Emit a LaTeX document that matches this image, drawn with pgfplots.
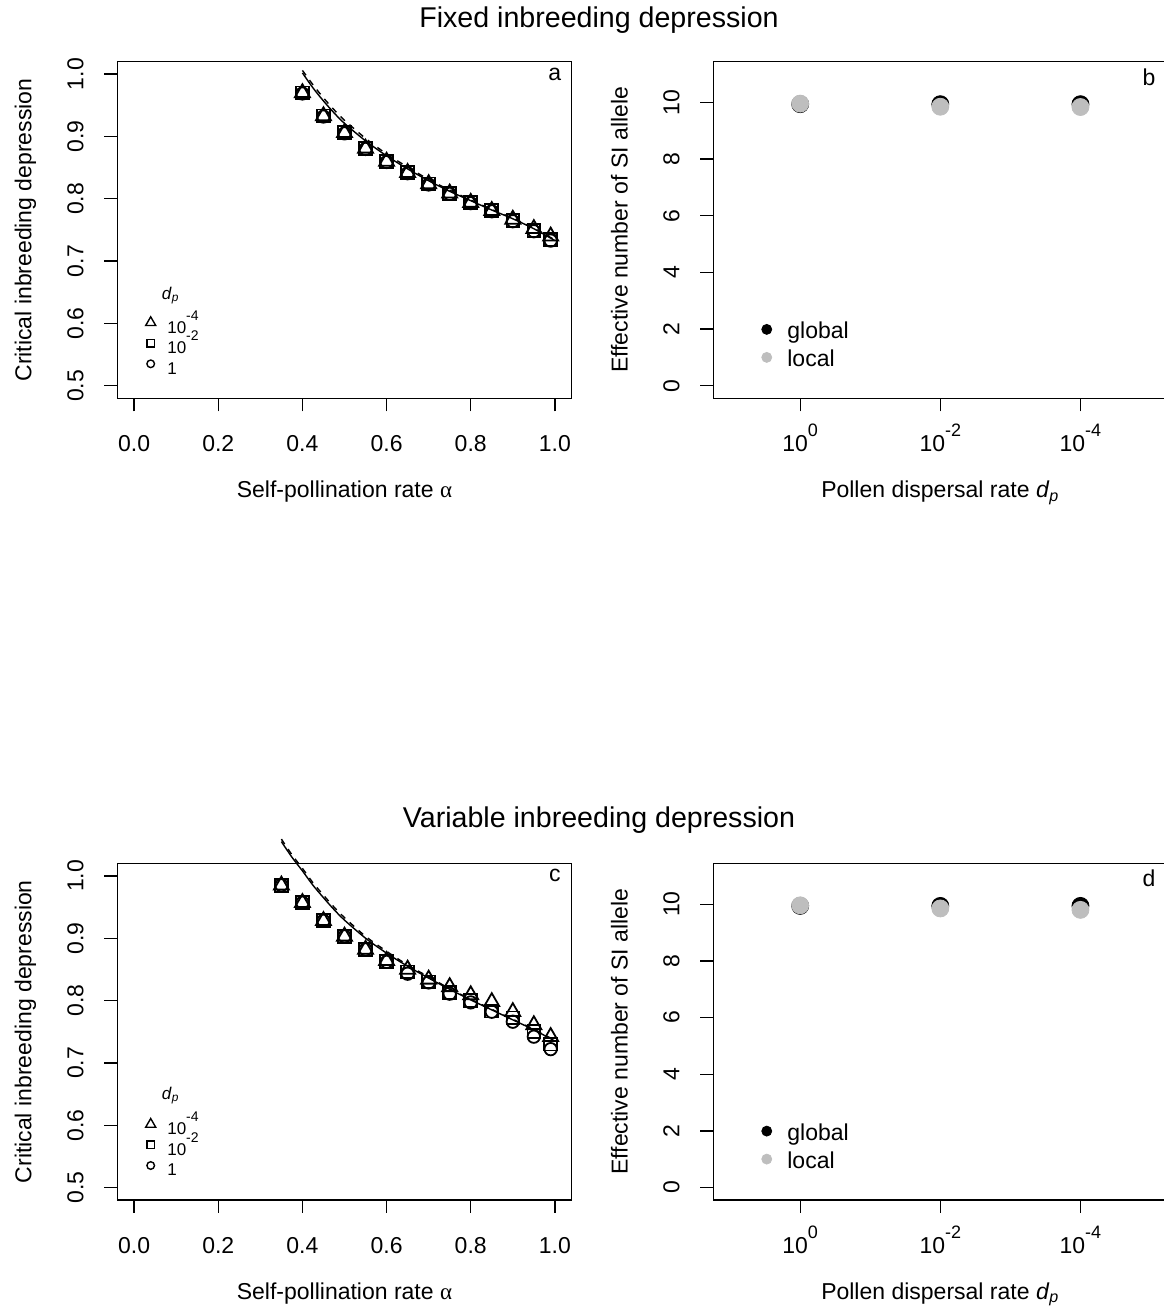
\documentclass[border=0pt]{standalone}
\usepackage{fontspec}
\setmainfont{Liberation Sans}
\newfontfamily\greekfont{Liberation Serif}
\usepackage{pgfplots}
\pgfplotsset{compat=1.18}
\definecolor{rgray}{HTML}{BEBEBE}
\newcommand\bigsup[1]{\raisebox{7.5pt}{\fontsize{9}{10}\selectfont #1}}
\newcommand\smallsup[1]{\raisebox{6.5pt}[0pt][0pt]{\fontsize{7}{8}\selectfont #1}}
\newcommand\dpsym{\textit{d}\textsubscript{\textit{p}}}

\pgfplotsset{
  rstyle/.style={
    scale only axis,
    clip=false,
    axis line style={line width=0.65pt},
    tick align=outside,
    major tick length=6.5pt,
    tick style={line width=0.65pt, black},
    xtick pos=bottom, ytick pos=left,
    tick label style={font=\fontsize{11.5}{13}\selectfont},
    label style={font=\fontsize{11.5}{13}\selectfont},
    /pgf/number format/assume math mode=true,
    xticklabel style={anchor=base, inner sep=0pt, yshift=-20.2pt},
    yticklabel style={xshift=-10.5pt, rotate=90, anchor=base, inner sep=0pt},
    xlabel style={at={(axis description cs:0.5,-0.295)}, anchor=base, inner sep=0pt},
    ylabel style={at={(axis description cs:-0.189,0.5)}, rotate=0, anchor=base, inner sep=0pt},
  },
  leftstyle/.style={
    rstyle,
    width=227.2pt, height=168.3pt,
    xmin=-0.04, xmax=1.04, ymin=0.48, ymax=1.02,
    xtick={0,0.2,0.4,0.6,0.8,1},
    xticklabels={0.0,0.2,0.4,0.6,0.8,1.0},
    ytick={0.5,0.6,0.7,0.8,0.9,1.0},
    yticklabels={0.5,0.6,0.7,0.8,0.9,1.0},
    xlabel={Self-pollination rate {\greekfont α}},
    ylabel={Critical inbreeding depression},
    legend image code/.code={\path[draw=none, fill=none] (-3pt,-3.3pt) rectangle (3pt,7pt); \draw[##1, overlay] plot coordinates {(0pt,5.2pt)};},
    legend style={draw=none, fill=none, at={(0.0603,0.2355)}, anchor=north west,
      inner sep=0pt, outer sep=0pt, row sep=0pt, column sep=5.3pt,
      font=\fontsize{8.5}{10}\selectfont,
      cells={anchor=base west},
      nodes={inner sep=0pt, outer sep=0pt, text height=7pt, text depth=3.3pt}},
  },
  rightstyle/.style={
    rstyle,
    width=227pt, height=168.3pt,
    xmin=0.38, xmax=3.62, ymin=-0.44, ymax=11.44,
    xtick={1,2,3},
    xticklabels={10\bigsup{0}, 10\bigsup{-2}, 10\bigsup{-4}},
    ytick={0,2,4,6,8,10},
    yticklabels={0,2,4,6,8,10},
    xlabel={Pollen dispersal rate \dpsym},
    ylabel={Effective number of SI allele},
    legend image code/.code={\path[draw=none, fill=none] (-3pt,-4.5pt) rectangle (3pt,9.5pt); \draw[##1, overlay] plot coordinates {(0pt,4.8pt)};},
    legend style={draw=none, fill=none, at={(0.1045,0.2326)}, anchor=north west,
      inner sep=0pt, outer sep=0pt, row sep=0pt, column sep=7.3pt,
      font=\fontsize{11.5}{13}\selectfont,
      cells={anchor=base west},
      nodes={inner sep=0pt, outer sep=0pt, text height=9.5pt, text depth=4.5pt}},
  },
  tri/.style={only marks, mark=triangle, mark size=4.3pt, black, mark options={line width=0.9pt, solid}},
  sqr/.style={only marks, mark=square, mark size=3.2pt, black, mark options={line width=0.9pt, solid}},
  circ/.style={only marks, mark=o, mark size=3.1pt, black, mark options={line width=0.9pt, solid}},
  gdot/.style={only marks, mark=*, mark size=4.25pt, black},
  ldot/.style={only marks, mark=*, mark size=4.25pt, rgray, mark options={draw=rgray, fill=rgray}},
}

\begin{document}
\begin{tikzpicture}[x=1pt,y=1pt]

% ---------------- panel a ----------------
\begin{axis}[leftstyle, at={(58.65pt,455.35pt)}, anchor=south west]
\addplot[smooth, black, line width=0.7pt, forget plot] coordinates {
(0.40,1.002) (0.425,0.978) (0.45,0.957) (0.475,0.938) (0.50,0.921) (0.55,0.893) (0.60,0.869) (0.65,0.848) (0.70,0.829) (0.75,0.812) (0.80,0.797) (0.85,0.782) (0.90,0.768) (0.95,0.752) (1.00,0.733)};
\addplot[smooth, black, line width=0.7pt, dash pattern=on 3pt off 3pt, forget plot] coordinates {
(0.40,1.006) (0.425,0.983) (0.45,0.962) (0.475,0.943) (0.50,0.926) (0.55,0.897) (0.60,0.872) (0.65,0.851) (0.70,0.831) (0.75,0.814) (0.80,0.798) (0.85,0.783) (0.90,0.769) (0.95,0.753) (1.00,0.734)};
\addplot[tri, forget plot] coordinates {
(0.40,0.970) (0.45,0.933) (0.50,0.906) (0.55,0.881) (0.60,0.860) (0.65,0.842) (0.70,0.824) (0.75,0.809) (0.80,0.794) (0.85,0.781) (0.90,0.767) (0.95,0.752) (0.99,0.740)};
\addplot[sqr, forget plot] coordinates {
(0.40,0.970) (0.45,0.933) (0.50,0.906) (0.55,0.881) (0.60,0.860) (0.65,0.842) (0.70,0.824) (0.75,0.809) (0.80,0.794) (0.85,0.781) (0.90,0.765) (0.95,0.749) (0.99,0.735)};
\addplot[circ, forget plot] coordinates {
(0.40,0.969) (0.45,0.932) (0.50,0.905) (0.55,0.880) (0.60,0.859) (0.65,0.841) (0.70,0.823) (0.75,0.808) (0.80,0.793) (0.85,0.780) (0.90,0.764) (0.95,0.748) (0.99,0.733)};
\addlegendimage{mark=triangle, mark size=2.9pt, black, mark options={line width=0.7pt}}
\addlegendentry{10\smallsup{-4}}
\addlegendimage{mark=square, mark size=1.9pt, black, mark options={line width=0.7pt}}
\addlegendentry{10\smallsup{-2}}
\addlegendimage{mark=o, mark size=1.9pt, black, mark options={line width=0.7pt}}
\addlegendentry{1}
\node[anchor=base west, inner sep=0pt, font=\fontsize{8.5}{10}\selectfont] at (axis cs:0.0651,0.6384) {\dpsym};
\node[font=\fontsize{11.5}{13}\selectfont] at (axis cs:1,1) {a};
\end{axis}

% ---------------- panel b ----------------
\begin{axis}[rightstyle, at={(356.65pt,455.35pt)}, anchor=south west]
\addplot[gdot, forget plot] coordinates {(1,9.94) (2,9.94) (3,9.94)};
\addplot[ldot, forget plot] coordinates {(1,9.96) (2,9.85) (3,9.84)};
\addlegendimage{mark=*, mark size=2.5pt, black}
\addlegendentry{global}
\addlegendimage{mark=*, mark size=2.5pt, rgray, mark options={draw=rgray, fill=rgray}}
\addlegendentry{local}
\node[font=\fontsize{11.5}{13}\selectfont] at (axis cs:3.49,10.9) {b};
\end{axis}

% ---------------- panel c ----------------
\begin{axis}[leftstyle, at={(58.65pt,54.5pt)}, anchor=south west]
\addplot[smooth, black, line width=0.7pt, forget plot] coordinates {
(0.35,1.055) (0.375,1.030) (0.40,1.008) (0.425,0.985) (0.45,0.965) (0.475,0.946) (0.50,0.929) (0.55,0.900) (0.60,0.876) (0.65,0.855) (0.70,0.836) (0.75,0.818) (0.80,0.801) (0.85,0.785) (0.90,0.769) (0.95,0.753) (1.00,0.735)};
\addplot[smooth, black, line width=0.7pt, dash pattern=on 3pt off 3pt, forget plot] coordinates {
(0.35,1.059) (0.375,1.034) (0.40,1.012) (0.425,0.989) (0.45,0.969) (0.475,0.950) (0.50,0.933) (0.55,0.903) (0.60,0.879) (0.65,0.857) (0.70,0.838) (0.75,0.819) (0.80,0.802) (0.85,0.786) (0.90,0.770) (0.95,0.754) (1.00,0.736)};
\addplot[tri, forget plot] coordinates {
(0.35,0.985) (0.40,0.957) (0.45,0.928) (0.50,0.903) (0.55,0.882) (0.60,0.864) (0.65,0.850) (0.70,0.834) (0.75,0.822) (0.80,0.809) (0.85,0.798) (0.90,0.782) (0.95,0.761) (0.99,0.742)};
\addplot[sqr, forget plot] coordinates {
(0.35,0.985) (0.40,0.957) (0.45,0.928) (0.50,0.903) (0.55,0.882) (0.60,0.863) (0.65,0.846) (0.70,0.830) (0.75,0.813) (0.80,0.800) (0.85,0.783) (0.90,0.772) (0.95,0.750) (0.99,0.730)};
\addplot[circ, forget plot] coordinates {
(0.35,0.985) (0.40,0.957) (0.45,0.928) (0.50,0.903) (0.55,0.882) (0.60,0.862) (0.65,0.843) (0.70,0.829) (0.75,0.811) (0.80,0.797) (0.85,0.782) (0.90,0.766) (0.95,0.742) (0.99,0.722)};
\addlegendimage{mark=triangle, mark size=2.9pt, black, mark options={line width=0.7pt}}
\addlegendentry{10\smallsup{-4}}
\addlegendimage{mark=square, mark size=1.9pt, black, mark options={line width=0.7pt}}
\addlegendentry{10\smallsup{-2}}
\addlegendimage{mark=o, mark size=1.9pt, black, mark options={line width=0.7pt}}
\addlegendentry{1}
\node[anchor=base west, inner sep=0pt, font=\fontsize{8.5}{10}\selectfont] at (axis cs:0.0651,0.6407) {\dpsym};
\node[font=\fontsize{11.5}{13}\selectfont] at (axis cs:1,1) {c};
\end{axis}

% ---------------- panel d ----------------
\begin{axis}[rightstyle, at={(356.65pt,54.5pt)}, anchor=south west]
\addplot[gdot, forget plot] coordinates {(1,9.94) (2,9.94) (3,9.94)};
\addplot[ldot, forget plot] coordinates {(1,9.96) (2,9.85) (3,9.80)};
\addlegendimage{mark=*, mark size=2.5pt, black}
\addlegendentry{global}
\addlegendimage{mark=*, mark size=2.5pt, rgray, mark options={draw=rgray, fill=rgray}}
\addlegendentry{local}
\node[font=\fontsize{11.5}{13}\selectfont] at (axis cs:3.49,10.9) {d};
\end{axis}

\node[anchor=base, inner sep=0pt, font=\fontsize{14.3}{17}\selectfont] at (299.5pt,640.5pt) {Fixed inbreeding depression};
\node[anchor=base, inner sep=0pt, font=\fontsize{14.3}{17}\selectfont] at (299.5pt,240.5pt) {Variable inbreeding depression};

\pgfresetboundingbox
\useasboundingbox (0pt,0pt) rectangle (581.5pt,654.5pt);
\end{tikzpicture}
\end{document}
